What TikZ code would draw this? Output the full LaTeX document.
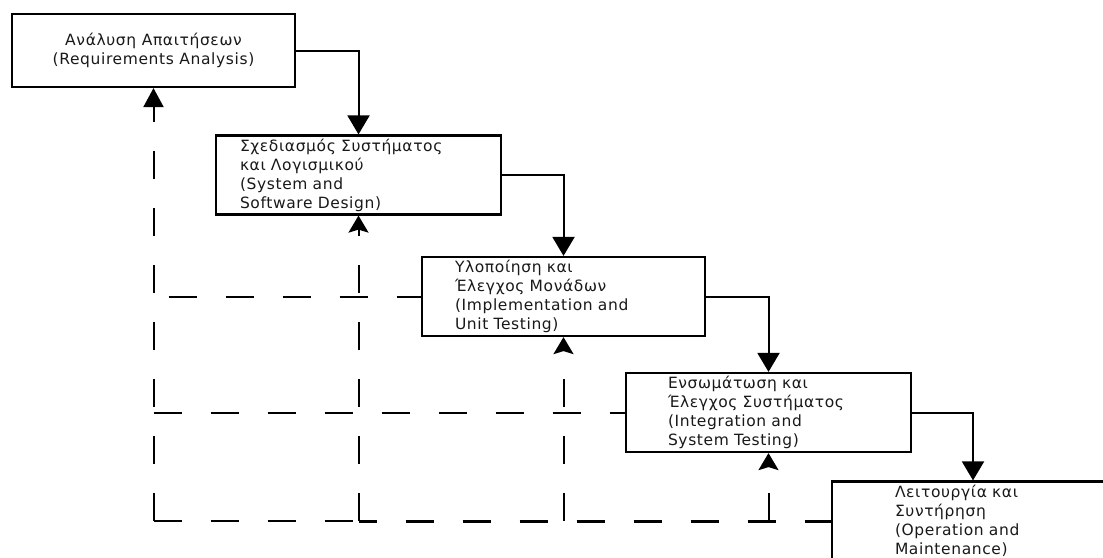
\documentclass[tikz,border=0pt]{standalone}
\usepackage{fontspec}
\setmainfont[LetterSpace=4]{DejaVu Sans}
\usetikzlibrary{arrows.meta}
\begin{document}
\begin{tikzpicture}[x=1pt,y=-1pt,
  box/.style={draw=black,line width=2.2pt,rectangle,inner ysep=0pt,
    minimum height=79pt,font=\fontsize{15.5}{19}\selectfont,text=black!90},
  flow/.style={line width=2pt,-{Triangle[width=22pt,length=19pt]}},
  dsh/.style={line width=2pt,dash pattern=on 28pt off 29pt},
  ret/.style={dsh,-{Stealth[width=20pt,length=17pt,inset=3pt,fill=black]}},
  retmain/.style={dsh,-{Triangle[width=20pt,length=19pt]}}]
\clip (0,0) rectangle (1103,557);
\fill[white] (0,0) rectangle (1103,557);
\node[box,minimum width=283pt,minimum height=73pt,align=center] (b1) at (153.5,50.5)
  {Ανάλυση Απαιτήσεων\\(Requirements Analysis)};
\node[box,text width=237pt,inner xsep=24pt,align=left] (b2) at (358.5,175)
  {Σχεδιασμός Συστήματος\\και Λογισμικού\\(System and\\Software Design)};
\node[box,text width=217pt,inner xsep=33pt,align=left] (b3) at (563.5,296.5)
  {Υλοποίηση και\\Έλεγχος Μονάδων\\(Implementation and\\Unit Testing)};
\node[box,text width=201pt,inner xsep=42pt,align=left] (b4) at (768.5,412.5)
  {Ενσωμάτωση και\\Έλεγχος Συστήματος\\(Integration and\\System Testing)};
\node[box,text width=156pt,inner xsep=63pt,align=left] (b5) at (973,521)
  {Λειτουργία και\\Συντήρηση\\(Operation and\\Maintenance)};
% forward flow
\draw[flow] (b1.east) -| (b2.north);
\draw[flow] (b2.east) -| (b3.north);
\draw[flow] (b3.east) -| (b4.north);
\draw[flow] (b4.east) -| (b5.north);
% feedback
\coordinate (bl) at (b1.south |- b5.west);
\coordinate (l3) at (b1.south |- b3.west);
\coordinate (l4) at (b1.south |- b4.west);
\coordinate (c2) at (b2.south |- b5.west);
\coordinate (c3) at (b3.south |- b5.west);
\coordinate (c4) at (b4.south |- b5.west);
\draw[retmain] (bl) -- (b1.south);
\draw[dsh] (bl) -- (c2);
\draw[dsh,line width=3pt,dash phase=10pt] (c2) -- (b5.west);
\draw[dsh,dash phase=-15pt] (l3) -- (b3.west);
\draw[dsh] (l4) -- (b4.west);
\draw[ret] (c2) -- (b2.south);
\draw[ret] (c3) -- (b3.south);
\draw[ret] (c4) -- (b4.south);
\end{tikzpicture}
\end{document}
